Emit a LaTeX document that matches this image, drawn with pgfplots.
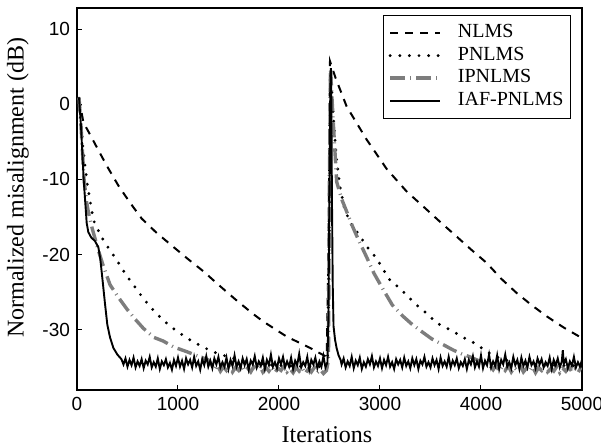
\documentclass[border=0pt]{standalone}
\usepackage{fontspec}
\setmainfont{Liberation Serif}
\newfontfamily\arial{Liberation Sans}
\usepackage{pgfplots}
\pgfplotsset{compat=1.18}
\definecolor{igray}{RGB}{125,125,125}
\begin{document}
\begin{tikzpicture}
\begin{axis}[
  scale only axis, width=252.5pt, height=191pt,
  xmin=0, xmax=5000, ymin=-38, ymax=12.8,
  xtick={0,1000,2000,3000,4000,5000},
  ytick={-30,-20,-10,0,10},
  xtick pos=bottom, ytick pos=left, tick align=inside,
  major tick length=2.4pt,
  axis line style={line width=0.6pt},
  every tick/.style={line width=0.5pt, black},
  /pgf/number format/assume math mode=true,
  /pgf/number format/set thousands separator={},
  tick label style={font=\fontsize{9.5}{10}\selectfont\arial},
  xlabel={Iterations},
  ylabel={Normalized misalignment (dB)},
  every axis x label/.style={at={(axis description cs:0.495,-0.117)}, anchor=center, font=\fontsize{12}{13}\selectfont},
  every axis y label/.style={at={(axis description cs:-0.1168,0.529)}, rotate=90, anchor=center, font=\fontsize{12}{13}\selectfont},
  legend cell align=left,
  legend style={at={(1,1)}, anchor=north east, xshift=-5.5pt, yshift=-3.5pt,
    font=\fontsize{10}{11}\selectfont, draw=black, line width=0.5pt,
    inner xsep=2.5pt, inner ysep=3.2pt, row sep=0pt,
    nodes={inner sep=1pt, text height=7pt, text depth=2.25pt},
    /tikz/every odd column/.append style={column sep=7pt}},
  legend image code/.code={\draw[#1] (0pt,0pt) -- (25pt,0pt);},
]
% NLMS
\addplot[black, line width=1pt, dash pattern=on 4pt off 3.5pt] coordinates {
(20,0.8)(63,-2.4)(140,-4.3)(211,-6.1)(300,-8.3)(409,-10.8)(520,-13)(640,-15.2)(780,-17)(921,-18.6)(1100,-20.6)(1250,-22.2)(1400,-24)(1581,-26.1)(1745,-27.9)(1845,-28.9)(2076,-30.9)(2307,-32.4)(2472,-33.6)(2490,-20)(2505,5.7)(2560,3.5)(2670,-0.3)(2868,-4.7)(3066,-8.6)(3264,-11.6)(3445,-13.8)(3600,-15.7)(3726,-17.2)(3900,-19.3)(4056,-21.1)(4200,-23.2)(4353,-25.1)(4500,-26.7)(4650,-28.2)(4820,-29.7)(5000,-31.1)
};
\addlegendentry{NLMS}
% PNLMS
\addplot[black, line width=1.6pt, line cap=round, dash pattern=on 0pt off 4.8pt] coordinates {
(20,0.8)(60,-6)(100,-10.5)(162,-15.4)(244,-17.7)(320,-19.3)(393,-20.7)(480,-22.6)(574,-24.3)(660,-25.9)(756,-27.4)(860,-28.8)(970,-30)(1100,-31.2)(1234,-32.2)(1360,-33)(1500,-33.6)(1650,-34.1)(1800,-34.5)(1950,-34.7)(2100,-34.8)(2300,-34.9)(2480,-34.9)(2500,-15)(2512,4.5)(2530,0)(2550,-4)(2571,-7.5)(2604,-11)(2650,-14)(2719,-16.1)(2786,-17.2)(2868,-18.9)(2967,-20.5)(3033,-22)(3099,-23.4)(3198,-24.5)(3280,-25.6)(3363,-26.7)(3462,-27.8)(3561,-29.1)(3680,-29.9)(3759,-30.5)(3850,-31.2)(3940,-31.8)(4056,-32.9)(4200,-33.9)(4400,-34.5)(4700,-34.7)(5000,-34.8)
};
\addlegendentry{PNLMS}
% IPNLMS
\addplot[igray, line width=1.7pt, dash pattern=on 7.5pt off 2.5pt on 0.5pt off 2.5pt] coordinates {
(20,0.9)(40,-3)(70,-10)(95,-13)(112,-14.3)(150,-16.5)(211,-19.4)(260,-21.5)(327,-24)(400,-25.5)(492,-27.2)(570,-28.5)(657,-29.8)(760,-31)(855,-31.5)(960,-32.3)(1086,-32.9)(1200,-33.5)
(1300,-34.0)(1330,-34.6)(1360,-35.3)(1390,-34.7)(1420,-35.5)(1450,-34.9)(1480,-35.4)(1510,-34.8)(1540,-35.6)(1570,-35.0)(1600,-35.4)(1630,-34.7)(1660,-35.5)(1690,-35.1)(1720,-35.6)(1750,-34.9)(1780,-35.3)(1810,-34.8)(1840,-35.6)(1870,-35.0)(1900,-35.5)(1930,-34.9)(1960,-35.7)(1990,-35.1)(2020,-35.4)(2050,-34.8)(2080,-35.6)(2110,-35.2)(2140,-35.7)(2170,-35.0)(2200,-35.5)(2230,-35.1)(2260,-35.8)(2290,-35.2)(2320,-35.6)(2350,-35.0)(2380,-35.7)(2410,-35.3)(2440,-35.8)(2470,-35.4)(2490,-34.0)
(2500,-8)(2508,2.5)(2512,4.8)(2520,2.0)(2538,-2.5)(2571,-10.3)(2620,-12.6)(2677,-14.5)(2730,-16.3)(2786,-18)(2870,-20.4)(2941,-22.5)(3030,-24.6)(3122,-26.7)(3220,-28.1)(3320,-29.3)(3420,-30.3)(3512,-31.2)(3630,-32)(3726,-32.7)(3810,-33.2)(3891,-33.6)(3960,-34.0)(4030,-34.4)(4090,-34.8)
(4120,-35.3)(4150,-34.7)(4180,-35.5)(4210,-34.9)(4240,-35.4)(4270,-34.8)(4300,-35.6)(4330,-35.0)(4360,-35.4)(4390,-34.8)(4420,-35.6)(4450,-35.1)(4480,-35.5)(4510,-34.9)(4540,-35.7)(4570,-35.0)(4600,-35.4)(4630,-34.8)(4660,-35.6)(4690,-35.2)(4720,-35.5)(4750,-34.9)(4780,-35.7)(4810,-35.1)(4840,-35.5)(4870,-34.9)(4900,-35.6)(4930,-35.2)(4960,-35.7)(4990,-35.0)
};
\addlegendentry{IPNLMS}
% IAF-PNLMS
\addplot[black, line width=0.95pt] coordinates {
(20,0.9)(40,-3)(66,-10)(80,-12.7)(96,-15.8)(112,-17)(140,-17.7)(178,-18.2)(211,-19)(230,-20.5)(250,-23)(277,-26.5)(300,-29.3)(327,-31)(360,-32.4)(400,-33.3)
(440,-33.9)(460,-34.6)(480,-33.8)(500,-34.9)(520,-34.0)(540,-34.7)(560,-33.7)(580,-35.0)(600,-34.2)(620,-34.8)(640,-33.9)(660,-35.1)(680,-34.1)(700,-34.6)(720,-33.6)(740,-35.0)(760,-34.3)(780,-34.9)(800,-33.8)(820,-35.2)(840,-34.2)(860,-34.7)(880,-33.9)(900,-35.0)(920,-34.4)(940,-35.3)(960,-34.0)(980,-34.8)(1000,-33.7)(1020,-34.9)(1040,-34.1)(1060,-35.2)(1080,-33.8)(1100,-34.6)(1120,-34.0)(1140,-35.0)(1160,-33.6)(1180,-34.8)(1200,-34.2)(1220,-35.3)(1240,-33.9)(1260,-34.7)(1280,-33.5)(1300,-34.9)(1320,-34.1)(1340,-35.1)(1360,-33.8)(1380,-34.6)(1400,-33.6)(1420,-35.0)(1440,-34.3)(1460,-34.9)(1480,-33.7)(1500,-35.2)(1520,-34.0)(1540,-34.8)(1560,-33.4)(1580,-34.9)(1600,-34.2)(1620,-35.1)(1640,-33.8)(1660,-34.7)(1680,-33.9)(1700,-35.3)(1720,-34.1)(1740,-34.6)(1760,-33.5)(1780,-35.0)(1800,-34.2)(1820,-34.8)(1840,-33.7)(1860,-35.2)(1880,-34.0)(1900,-34.7)(1920,-33.3)(1940,-34.9)(1960,-34.3)(1980,-35.1)(2000,-33.8)(2020,-34.6)(2040,-33.6)(2060,-35.0)(2080,-34.2)(2100,-34.9)(2120,-33.7)(2140,-35.2)(2160,-34.1)(2180,-34.7)(2200,-33.2)(2220,-35.0)(2240,-34.3)(2260,-34.8)(2280,-33.6)(2300,-35.3)(2320,-34.0)(2340,-34.6)(2360,-33.7)(2380,-35.1)(2400,-34.2)(2420,-34.9)(2440,-33.5)(2460,-35.0)(2480,-34.3)
(2490,-28)(2500,-10)(2508,2)(2513,4.8)(2518,1)(2524,-12)(2532,-24)(2540,-29.5)(2555,-31.3)(2570,-32.4)(2590,-33.4)(2610,-34.0)
(2620,-34.6)(2640,-33.8)(2660,-35.0)(2680,-34.2)(2700,-34.8)(2720,-33.6)(2740,-35.1)(2760,-34.1)(2780,-34.7)(2800,-33.7)(2820,-35.2)(2840,-34.3)(2860,-34.9)(2880,-33.9)(2900,-34.6)(2920,-33.5)(2940,-35.0)(2960,-34.2)(2980,-34.8)(3000,-33.8)(3020,-35.1)(3040,-34.0)(3060,-34.7)(3080,-33.6)(3100,-34.9)(3120,-34.3)(3140,-35.2)(3160,-33.9)(3180,-34.6)(3200,-34.0)(3220,-35.0)(3240,-33.7)(3260,-34.8)(3280,-34.2)(3300,-35.1)(3320,-33.8)(3340,-34.7)(3360,-33.9)(3380,-35.2)(3400,-34.1)(3420,-34.6)(3440,-33.6)(3460,-34.9)(3480,-34.3)(3500,-35.0)(3520,-33.8)(3540,-34.7)(3560,-34.0)(3580,-35.2)(3600,-33.7)(3620,-34.8)(3640,-34.2)(3660,-34.9)(3680,-33.6)(3700,-35.0)(3720,-34.1)(3740,-34.7)(3760,-33.8)(3780,-35.1)(3800,-34.3)(3820,-34.8)(3840,-33.9)(3860,-35.2)(3880,-34.0)(3900,-34.6)(3920,-33.5)(3940,-35.0)(3960,-34.2)(3980,-34.9)(4000,-33.4)(4020,-35.1)(4040,-34.1)(4060,-34.7)(4080,-33.3)(4100,-35.0)(4120,-34.2)(4140,-34.8)(4160,-33.4)(4180,-35.2)(4200,-34.0)(4220,-34.6)(4240,-33.3)(4260,-34.9)(4280,-34.3)(4300,-35.1)(4320,-33.6)(4340,-34.7)(4360,-34.0)(4380,-35.2)(4400,-33.7)(4420,-34.8)(4440,-34.1)(4460,-35.0)(4480,-33.6)(4500,-34.7)(4520,-34.2)(4540,-35.1)(4560,-33.8)(4580,-34.6)(4600,-33.9)(4620,-35.0)(4640,-34.3)(4660,-34.8)(4680,-33.7)(4700,-35.2)(4720,-34.0)(4740,-34.7)(4760,-33.8)(4780,-35.0)(4800,-34.2)(4810,-32.7)(4820,-34.5)(4840,-33.9)(4860,-35.1)(4880,-34.2)(4900,-34.8)(4920,-33.6)(4940,-35.0)(4960,-34.3)(4980,-34.9)(5000,-34.0)
};
\addlegendentry{IAF-PNLMS}
\end{axis}
\pgfresetboundingbox
\path (current axis.south west) ++(-38.5pt,-29pt) rectangle ++(300.5pt,224pt);
\end{tikzpicture}
\end{document}
